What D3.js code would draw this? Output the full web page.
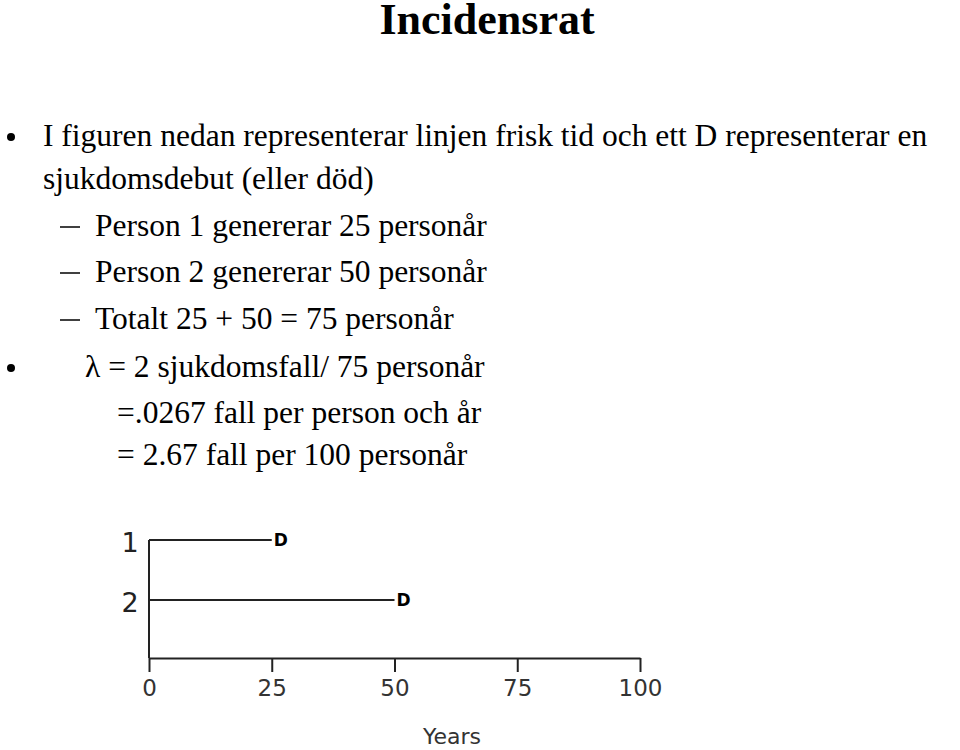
<!DOCTYPE html>
<html><head><meta charset="utf-8">
<script src="https://cdn.jsdelivr.net/npm/d3@7"></script>
<style>body{margin:0;background:#fff}</style></head>
<body><svg id="c" width="960" height="750"></svg>
<script>
// data
var persons = ["1", "2"];
var yearsAtEvent = [25, 50];
var xTicks = [0, 25, 50, 75, 100];

var svg = d3.select("#c");
var serif = "'Liberation Serif','Times New Roman',serif";

svg.append("text").attr("x", 487).attr("y", 34).attr("text-anchor", "middle")
  .style("font", "bold 44px " + serif).text("Incidensrat");

var lines = [
  {b: true, x: 43, y: 146, t: "I figuren nedan representerar linjen frisk tid och ett D representerar en"},
  {x: 43, y: 189, t: "sjukdomsdebut (eller död)"},
  {d: true, x: 95, y: 236, t: "Person 1 genererar 25 personår"},
  {d: true, x: 95, y: 282, t: "Person 2 genererar 50 personår"},
  {d: true, x: 95, y: 329, t: "Totalt 25 + 50 = 75 personår"},
  {b: true, x: 85, y: 377, t: "λ  = 2 sjukdomsfall/ 75 personår"},
  {x: 117, y: 423, t: "=.0267 fall per person och år"},
  {x: 117, y: 465, t: "= 2.67 fall per 100 personår"}
];
lines.forEach(function(l) {
  svg.append("text").attr("x", l.x).attr("y", l.y).style("font", "31.5px " + serif)
    .attr("textLength", null).text(l.t);
  if (l.b) svg.append("circle").attr("cx", 11).attr("cy", l.y - 9).attr("r", 4);
  if (l.d) svg.append("line").attr("x1", 60).attr("x2", 80).attr("y1", l.y - 9).attr("y2", l.y - 9)
    .attr("stroke", "#000").attr("stroke-width", 1.5);
});

// chart
var x = d3.scaleLinear().domain([0, 100]).range([149, 640]);
var y = d3.scalePoint().domain(persons).range([540, 600]);
var sans = "'DejaVu Sans',sans-serif";

var ax = svg.append("g").attr("transform", "translate(0,658)")
  .call(d3.axisBottom(x).tickValues(xTicks).tickSize(14).tickPadding(8).tickSizeOuter(0));
ax.select(".domain").attr("stroke-width", 2).attr("stroke", "#222");
ax.selectAll(".tick line").attr("stroke-width", 2).attr("stroke", "#222");
ax.selectAll("text").style("font", "23px " + sans).attr("fill", "#333");

svg.append("line").attr("x1", x(0)).attr("x2", x(0)).attr("y1", y("1")).attr("y2", 658)
  .attr("stroke", "#222").attr("stroke-width", 2);

persons.forEach(function(p, i) {
  svg.append("line").attr("x1", x(0)).attr("x2", x(yearsAtEvent[i])).attr("y1", y(p)).attr("y2", y(p))
    .attr("stroke", "#222").attr("stroke-width", 2);
  svg.append("text").attr("x", x(yearsAtEvent[i]) + 2).attr("y", y(p) + 6)
    .style("font", "bold 17px " + sans).text("D");
  svg.append("text").attr("x", 130).attr("y", y(p) + 12).attr("text-anchor", "middle")
    .style("font", "27px " + sans).attr("fill", "#222").text(p);
});

svg.append("text").attr("x", 452).attr("y", 744).attr("text-anchor", "middle")
  .style("font", "22px " + sans).attr("fill", "#333").text("Years");
</script></body></html>
